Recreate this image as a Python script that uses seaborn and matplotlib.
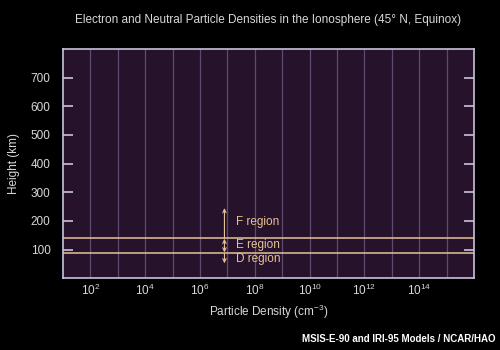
import matplotlib
matplotlib.use("Agg")
import matplotlib.pyplot as plt
import seaborn as sns
import pandas as pd
import numpy as np

# ---- data ----
title = "Electron and Neutral Particle Densities in the Ionosphere (45° N, Equinox)"
boundary_heights = [140, 88]            # km, E/F and D/E boundaries
x_span = [1e1, 1e16]                    # cm^-3, horizontal extent of boundary lines
region_names = ["F region", "E region", "D region"]
region_label_heights = [195, 116, 66]   # km
arrow_x = 7.8e6                         # cm^-3
arrow_spans = [(140, 245, "->"), (138, 90, "<->"), (86, 52, "->")]
label_x = 2.1e7
y_ticks = [100, 200, 300, 400, 500, 600, 700]
x_grid_exponents = list(range(2, 16))
x_label_exponents = [2, 4, 6, 8, 10, 12, 14]

BG = "#000000"
PANEL = "#26132b"
GRID = "#5d4a70"
SPINE = "#c9c2dc"
TXT = "#d8d8d8"
TAN = "#e6c294"

sns.set_style("dark")
plt.rcParams["font.family"] = ["Liberation Sans", "DejaVu Sans"]
plt.rcParams["mathtext.fontset"] = "custom"
plt.rcParams["mathtext.rm"] = "Liberation Sans"
plt.rcParams["mathtext.it"] = "Liberation Sans"
plt.rcParams["mathtext.default"] = "regular"

fig = plt.figure(figsize=(5, 3.5), dpi=100, facecolor=BG)
ax = fig.add_axes([0.126, 0.205, 0.822, 0.655])
ax.set_facecolor(PANEL)

rows = []
for i, h in enumerate(boundary_heights):
    for x in x_span:
        rows.append({"density": x, "height": h, "line": i})
df = pd.DataFrame(rows)
sns.lineplot(data=df, x="density", y="height", units="line", estimator=None,
             color=TAN, lw=1.1, ax=ax, legend=False)

ax.set_xscale("log")
ax.set_xlim(x_span)
ax.set_ylim(0, 800)

ax.set_xticks([10.0 ** e for e in x_grid_exponents])
ax.set_xticklabels([f"$10^{{{e}}}$" if e in x_label_exponents else "" for e in x_grid_exponents])
ax.xaxis.set_minor_locator(matplotlib.ticker.NullLocator())
ax.set_yticks(y_ticks)
ax.set_yticklabels([str(t) for t in y_ticks])

ax.grid(True, axis="x", color=GRID, lw=0.9)
ax.grid(False, axis="y")
ax.set_axisbelow(True)

ax.tick_params(axis="x", length=0, pad=3, colors=TXT, labelsize=8.5)
ax.tick_params(axis="y", which="major", direction="in", length=7, width=1.2,
               color=SPINE, labelcolor=TXT, labelsize=8.5, pad=9,
               left=True, right=True)

for s in ax.spines.values():
    s.set_visible(True)
    s.set_color(SPINE)
    s.set_linewidth(1.2)

ax.set_xlabel("Particle Density (cm$^{-3}$)", color=TXT, fontsize=8.5, labelpad=4)
ax.set_ylabel("Height (km)", color=TXT, fontsize=8.5, labelpad=8)

for (y0, y1, style) in arrow_spans:
    ax.annotate("", xy=(arrow_x, y1), xytext=(arrow_x, y0),
                arrowprops=dict(arrowstyle=style + ",head_length=0.25,head_width=0.12",
                                color=TAN, lw=0.8, shrinkA=0, shrinkB=0))
for name, h in zip(region_names, region_label_heights):
    ax.text(label_x, h, name, color=TAN, fontsize=8.5, va="center", ha="left")

fig.text(0.536, 0.943, title, color=TXT, fontsize=8.5, ha="center", va="center")
fig.text(0.992, 0.03, "MSIS-E-90 and IRI-95 Models / NCAR/HAO", color="#ffffff",
         fontsize=7, fontweight="bold", ha="right", va="center")

fig.savefig("out.png", dpi=100, facecolor=BG)
